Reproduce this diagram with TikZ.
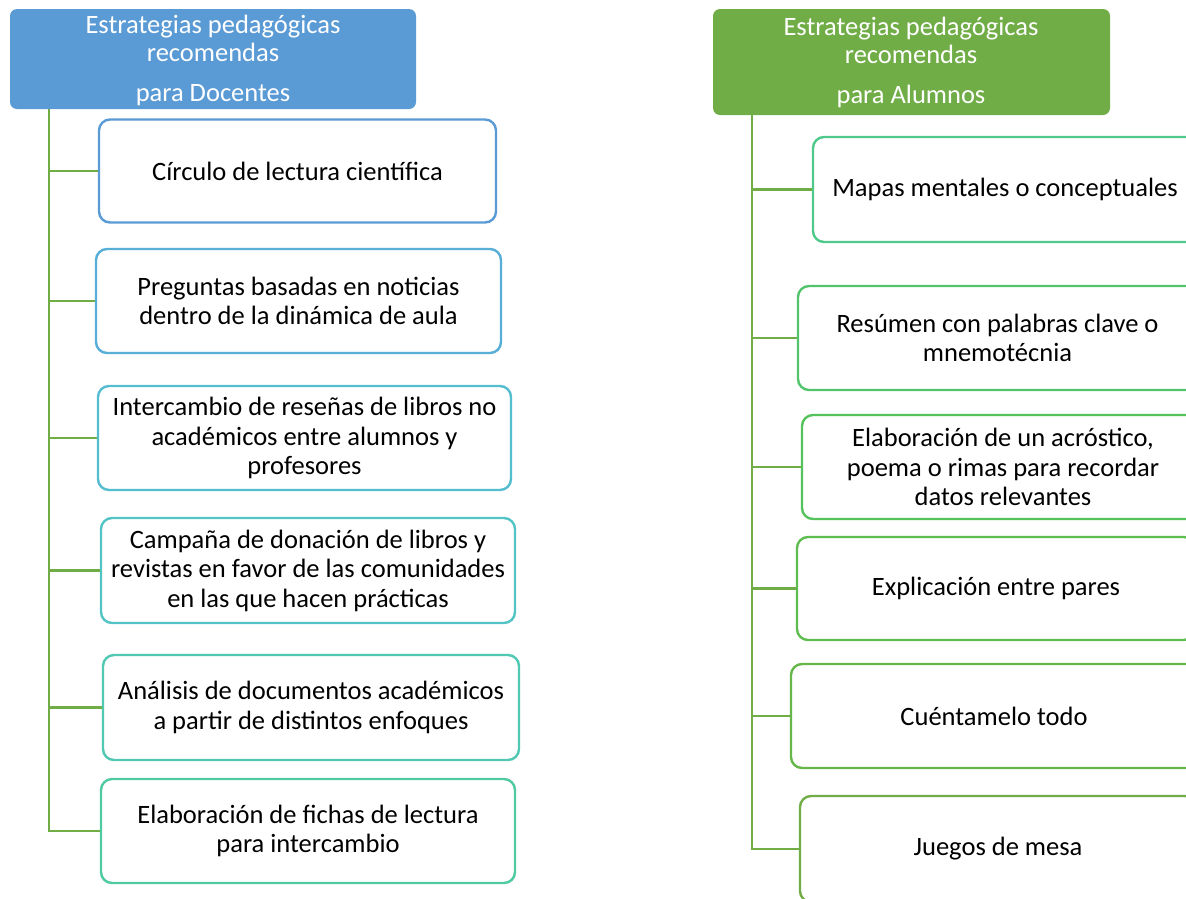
\documentclass[tikz,border=0pt]{standalone}
\usepackage{fontspec}
\setmainfont{Carlito}
\definecolor{hblue}{HTML}{5B9BD5}
\definecolor{hgreen}{HTML}{70AD47}
\definecolor{cA}{HTML}{5B9BD5}
\definecolor{cB}{HTML}{57AED6}
\definecolor{cC}{HTML}{55BDD0}
\definecolor{cD}{HTML}{52C4C6}
\definecolor{cE}{HTML}{50C8B2}
\definecolor{cF}{HTML}{4FCA9E}
\definecolor{dA}{HTML}{4FC98A}
\definecolor{dB}{HTML}{52C56C}
\definecolor{dC}{HTML}{56C25C}
\definecolor{dD}{HTML}{5DBE4F}
\definecolor{dE}{HTML}{67B64A}
\definecolor{dF}{HTML}{70AD47}
\tikzset{
  hdr/.style={inner sep=0pt, text=white, align=center,
    font=\fontsize{26.5}{28}\selectfont},
  itembox/.style={draw, line width=2.4pt, rounded corners=11pt, fill=white,
    inner sep=0pt, align=center, font=\fontsize{26.5}{29.5}\selectfont},
  conn/.style={draw=hgreen, line width=2.8pt},
}
\begin{document}
\begin{tikzpicture}[x=1pt,y=-1pt]
\useasboundingbox (0,0) rectangle (1186,898);
\clip (0,0) rectangle (1186,898);
% headers
\fill[hblue, rounded corners=7pt] (10,9) rectangle (416,109);
\node[hdr] (hL) at (213,60) {Estrategias pedagógicas\\recomendas\\[12pt]para Docentes};
\fill[hgreen, rounded corners=7pt] (713,9) rectangle (1110,115);
\node[hdr] (hR) at (911,62.5) {Estrategias pedagógicas\\recomendas\\[12pt]para Alumnos};
\coordinate (tL) at (49,109);
\coordinate (tR) at (752,115);
% left boxes
\node[itembox, draw=cA, minimum width=397pt, minimum height=103pt] (l1) at (297.5,171) {Círculo de lectura científica};
\node[itembox, draw=cB, minimum width=405pt, minimum height=104pt] (l2) at (298.5,301) {Preguntas basadas en noticias\\dentro de la dinámica de aula};
\node[itembox, draw=cC, minimum width=413pt, minimum height=104pt] (l3) at (304.5,438) {Intercambio de reseñas de libros no\\académicos entre alumnos y\\profesores};
\node[itembox, draw=cD, minimum width=414pt, minimum height=105pt] (l4) at (308,570.5) {Campaña de donación de libros y\\revistas en favor de las comunidades\\en las que hacen prácticas};
\node[itembox, draw=cE, minimum width=416pt, minimum height=105pt] (l5) at (311,707.5) {Análisis de documentos académicos\\a partir de distintos enfoques};
\node[itembox, draw=cF, minimum width=414pt, minimum height=104pt] (l6) at (308,831) {Elaboración de fichas de lectura\\para intercambio};
% right boxes
\node[itembox, draw=dA, minimum width=384pt, minimum height=105pt] (r1) at (1005,189.5) {Mapas mentales o conceptuales};
\node[itembox, draw=dB, minimum width=399pt, minimum height=104pt] (r2) at (997.5,338) {Resúmen con palabras clave o\\mnemotécnia};
\node[itembox, draw=dC, minimum width=402pt, minimum height=104pt] (r3) at (1003,467) {Elaboración de un acróstico,\\poema o rimas para recordar\\datos relevantes};
\node[itembox, draw=dD, minimum width=398pt, minimum height=103pt] (r4) at (996,588.5) {Explicación entre pares};
\node[itembox, draw=dE, minimum width=406pt, minimum height=104pt] (r5) at (994,716) {Cuéntamelo todo};
\node[itembox, draw=dF, minimum width=396pt, minimum height=106pt] (r6) at (998,849) {Juegos de mesa};
% connectors
\draw[conn] (tL) |- (l6.west);
\foreach \b in {l1,l2,l3,l4,l5} \draw[conn] (tL |- \b.west) -- (\b.west);
\draw[conn] (tR) |- (r6.west);
\foreach \b in {r1,r2,r3,r4,r5} \draw[conn] (tR |- \b.west) -- (\b.west);
\end{tikzpicture}
\end{document}
